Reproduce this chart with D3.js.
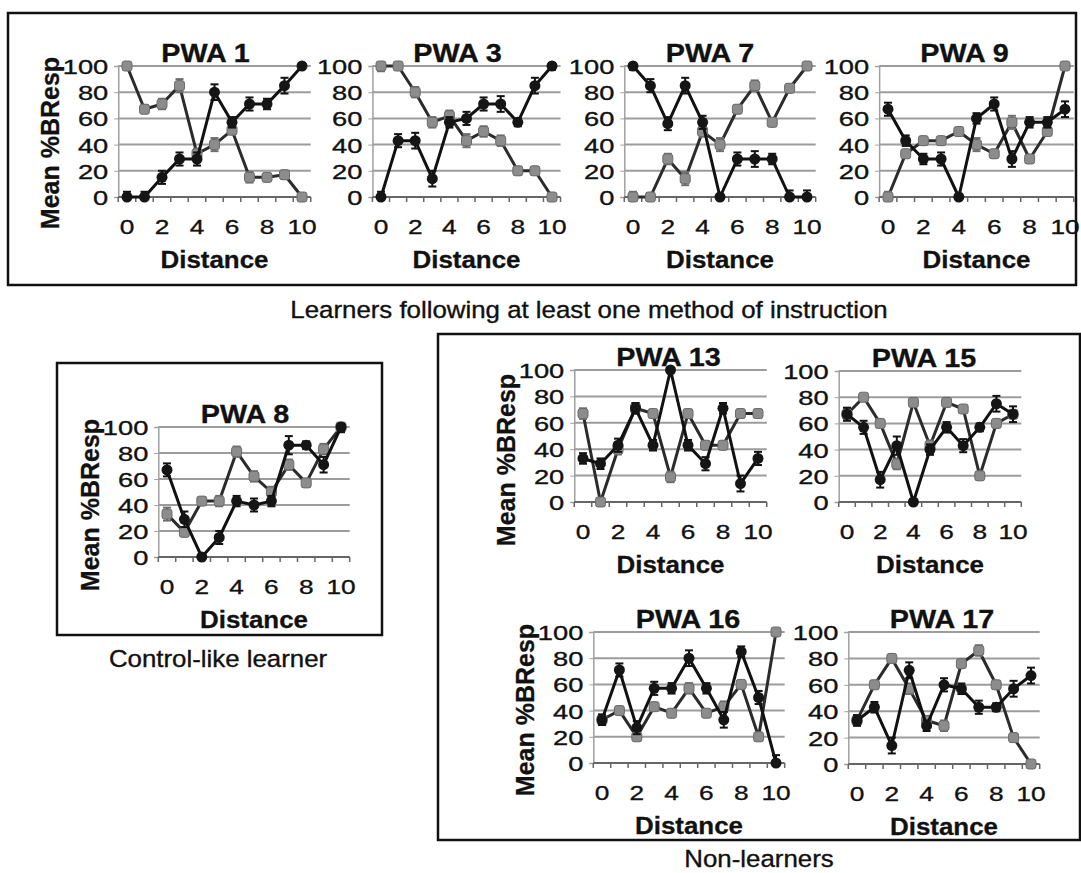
<!DOCTYPE html>
<html>
<head>
<meta charset="utf-8">
<script src="https://cdn.jsdelivr.net/npm/d3@7"></script>
<style>
  body { margin: 0; background: #ffffff; }
  svg { display: block; font-family: "Liberation Sans", Arial, sans-serif; }
</style>
</head>
<body>
<div id="chart"></div>
<script>
// Categories and ticks shared by all panels.
const distances = [0, 1, 2, 3, 4, 5, 6, 7, 8, 9, 10];
const xTickLabels = [0, 2, 4, 6, 8, 10];
const yTicks = [0, 20, 40, 60, 80, 100];

// Mean %BResp per distance, black series / gray series, with error bars.
const pwa1Black = [0, 0, 15, 29, 29, 80, 57, 71, 71, 85, 100];
const pwa1BlackErr = [4, 4, 5, 5, 5, 6, 4, 5, 4, 6, 2];
const pwa1Gray = [100, 67, 71, 85, 33, 40, 51, 15, 15, 17, 0];
const pwa1GrayErr = [2, 3, 4, 5, 4, 5, 3, 4, 3, 3, 1];

const pwa3Black = [0, 43, 43, 14, 57, 60, 71, 71, 57, 85, 100];
const pwa3BlackErr = [4, 5, 6, 6, 4, 5, 5, 6, 3, 6, 3];
const pwa3Gray = [100, 100, 80, 57, 62, 43, 50, 43, 20, 20, 0];
const pwa3GrayErr = [4, 2, 4, 4, 4, 5, 4, 4, 3, 3, 2];

const pwa7Black = [100, 85, 56, 85, 57, 0, 29, 29, 29, 0, 0];
const pwa7BlackErr = [3, 5, 5, 6, 5, 2, 5, 6, 4, 5, 5];
const pwa7Gray = [0, 0, 29, 14, 50, 40, 67, 85, 57, 83, 100];
const pwa7GrayErr = [4, 2, 4, 5, 4, 5, 3, 4, 3, 3, 2];

const pwa9Black = [67, 43, 29, 29, 0, 60, 71, 29, 57, 57, 67];
const pwa9BlackErr = [5, 4, 4, 5, 2, 4, 5, 6, 4, 4, 6];
const pwa9Gray = [0, 33, 43, 43, 50, 40, 33, 57, 29, 50, 100];
const pwa9GrayErr = [4, 3, 3, 3, 3, 5, 3, 5, 3, 3, 2];

const pwa8Black = [67, 29, 0, 15, 43, 40, 43, 86, 86, 71, 100];
const pwa8BlackErr = [5, 6, 2, 5, 4, 5, 4, 7, 3, 6, 4];
const pwa8Gray = [33, 19, 43, 43, 81, 62, 50, 71, 57, 83, 100];
const pwa8GrayErr = [5, 3, 3, 4, 4, 4, 4, 4, 3, 4, 3];

const pwa13Black = [33, 29, 43, 71, 43, 100, 43, 29, 71, 14, 33];
const pwa13BlackErr = [4, 4, 5, 4, 4, 2, 4, 5, 4, 6, 5];
const pwa13Gray = [67, 0, 40, 71, 67, 19, 67, 43, 43, 67, 67];
const pwa13GrayErr = [4, 2, 4, 4, 3, 4, 3, 3, 3, 3, 3];

const pwa15Black = [67, 57, 17, 43, 0, 40, 57, 43, 57, 75, 67];
const pwa15BlackErr = [5, 5, 6, 7, 2, 4, 4, 5, 3, 6, 6];
const pwa15Gray = [67, 80, 60, 29, 76, 43, 76, 71, 20, 60, 67];
const pwa15GrayErr = [4, 2, 3, 4, 3, 4, 3, 3, 3, 3, 3];

const pwa16Black = [33, 71, 27, 57, 57, 80, 57, 33, 85, 50, 0];
const pwa16BlackErr = [4, 5, 5, 5, 4, 6, 4, 6, 4, 5, 6];
const pwa16Gray = [33, 40, 20, 43, 38, 57, 38, 43, 60, 20, 100];
const pwa16GrayErr = [4, 3, 3, 3, 3, 4, 3, 4, 3, 3, 2];

const pwa17Black = [33, 43, 14, 71, 29, 60, 57, 43, 43, 57, 67];
const pwa17BlackErr = [4, 4, 6, 6, 4, 5, 4, 5, 3, 6, 6];
const pwa17Gray = [33, 60, 80, 57, 33, 29, 76, 86, 60, 20, 0];
const pwa17GrayErr = [4, 3, 3, 4, 3, 4, 3, 4, 3, 3, 2];

// Where each small chart sits on the page (x of first/last category, y of 100 and 0).
const panels = [
  { title: "PWA 1", black: pwa1Black, blackErr: pwa1BlackErr, gray: pwa1Gray, grayErr: pwa1GrayErr,
    x0: 127, x10: 302, yTop: 66, yBot: 197, titleDx: -9, yTitleCy: 143 },
  { title: "PWA 3", black: pwa3Black, blackErr: pwa3BlackErr, gray: pwa3Gray, grayErr: pwa3GrayErr,
    x0: 381, x10: 552, yTop: 66, yBot: 197, titleDx: -9 },
  { title: "PWA 7", black: pwa7Black, blackErr: pwa7BlackErr, gray: pwa7Gray, grayErr: pwa7GrayErr,
    x0: 633, x10: 807, yTop: 66, yBot: 197, titleDx: -10 },
  { title: "PWA 9", black: pwa9Black, blackErr: pwa9BlackErr, gray: pwa9Gray, grayErr: pwa9GrayErr,
    x0: 888, x10: 1065, yTop: 66, yBot: 197, titleDx: -12 },
  { title: "PWA 8", black: pwa8Black, blackErr: pwa8BlackErr, gray: pwa8Gray, grayErr: pwa8GrayErr,
    x0: 167, x10: 341, yTop: 427, yBot: 557, titleDx: -9, yTitleCy: 505 },
  { title: "PWA 13", black: pwa13Black, blackErr: pwa13BlackErr, gray: pwa13Gray, grayErr: pwa13GrayErr,
    x0: 583, x10: 758, yTop: 370, yBot: 502, titleDx: -2, yTitleCy: 460 },
  { title: "PWA 15", black: pwa15Black, blackErr: pwa15BlackErr, gray: pwa15Gray, grayErr: pwa15GrayErr,
    x0: 847, x10: 1013, yTop: 371, yBot: 502, titleDx: -6 },
  { title: "PWA 16", black: pwa16Black, blackErr: pwa16BlackErr, gray: pwa16Gray, grayErr: pwa16GrayErr,
    x0: 602, x10: 776, yTop: 632, yBot: 763, titleDx: -1, yTitleCy: 710 },
  { title: "PWA 17", black: pwa17Black, blackErr: pwa17BlackErr, gray: pwa17Gray, grayErr: pwa17GrayErr,
    x0: 857, x10: 1031, yTop: 632, yBot: 764, titleDx: -2 }
];

const width = 1081, height = 873;
const svg = d3.select("#chart").append("svg")
  .attr("width", width)
  .attr("height", height)
  .attr("viewBox", [0, 0, width, height]);

// Group frames.
const frames = [
  { x: 8, y: 13, w: 1068, h: 272 },
  { x: 57, y: 363, w: 325, h: 272 },
  { x: 438, y: 334, w: 642, h: 506 }
];
svg.selectAll(".frame")
  .data(frames)
  .join("rect")
  .attr("class", "frame")
  .attr("x", d => d.x).attr("y", d => d.y)
  .attr("width", d => d.w).attr("height", d => d.h)
  .attr("fill", "none")
  .attr("stroke", "#111")
  .attr("stroke-width", 2.5);

// Text that is a little wider than the font, like the scanned figure.
function label(parent, txt, x, y, size, weight, sx, anchor = "middle") {
  return parent.append("text")
    .attr("transform", `translate(${x},${y}) scale(${sx},1)`)
    .attr("text-anchor", anchor)
    .attr("font-size", size)
    .attr("font-weight", weight)
    .attr("fill", "#111")
    .attr("stroke", "#111")
    .attr("stroke-width", weight === "bold" ? 0.3 : 0.35)
    .text(txt);
}

label(svg, "Learners following at least one method of instruction", 589, 318, 23.5, "normal", 1.1);
label(svg, "Control-like learner", 218, 667, 23.5, "normal", 1.1);
label(svg, "Non-learners", 759, 867, 23.5, "normal", 1.1);

function drawPanel(p) {
  const step = (p.x10 - p.x0) / 10;
  const left = p.x0 - step / 2, right = p.x10 + step / 2;
  const x = d3.scaleBand().domain(distances).range([left, right]);
  const y = d3.scaleLinear().domain([0, 100]).range([p.yBot, p.yTop]);
  const cx = d => x(d) + x.bandwidth() / 2;
  const g = svg.append("g").attr("class", "panel");

  // Horizontal gridlines.
  g.selectAll(".grid")
    .data(yTicks.filter(t => t > 0))
    .join("line")
    .attr("x1", left).attr("x2", right)
    .attr("y1", d => y(d)).attr("y2", d => y(d))
    .attr("stroke", "#9c9c9c")
    .attr("stroke-width", 2);

  // Y axis with its labels.
  const yAxis = g.append("g")
    .attr("transform", `translate(${left},0)`)
    .call(d3.axisLeft(y).tickValues(yTicks).tickSize(4).tickPadding(10));
  yAxis.select(".domain").attr("stroke", "#a0a0a0").attr("stroke-width", 1.5);
  yAxis.selectAll(".tick line").attr("stroke", "#a0a0a0");
  yAxis.selectAll(".tick text")
    .attr("x", -10 / 1.3)
    .attr("dy", null)
    .attr("y", 7.5)
    .attr("transform", "scale(1.3,1)")
    .attr("font-size", 21)
    .attr("font-family", null)
    .attr("fill", "#111")
    .attr("stroke", "#111")
    .attr("stroke-width", 0.35);

  // X axis: ticks between categories, labels on even distances.
  g.append("line")
    .attr("x1", left).attr("x2", right)
    .attr("y1", p.yBot).attr("y2", p.yBot)
    .attr("stroke", "#666").attr("stroke-width", 2);
  g.selectAll(".xtick")
    .data(distances.map(d => x(d)).concat([right]))
    .join("line")
    .attr("x1", d => d).attr("x2", d => d)
    .attr("y1", p.yBot).attr("y2", p.yBot + 5)
    .attr("stroke", "#666").attr("stroke-width", 1.5);
  const xAxis = g.append("g")
    .attr("transform", `translate(0,${p.yBot})`)
    .call(d3.axisBottom(x).tickValues(xTickLabels).tickSize(0).tickPadding(0));
  xAxis.select(".domain").remove();
  xAxis.selectAll(".tick text")
    .attr("y", 37)
    .attr("dy", null)
    .attr("transform", "scale(1.25,1)")
    .attr("font-size", 21)
    .attr("font-family", null)
    .attr("fill", "#111")
    .attr("stroke", "#111")
    .attr("stroke-width", 0.35);

  // Titles.
  label(g, p.title, (left + right) / 2 + p.titleDx, p.yTop - 4, 25, "bold", 1.15);
  label(g, "Distance", (left + right) / 2, p.yBot + 71, 24, "bold", 1.08);
  if (p.yTitleCy) {
    g.append("text")
      .attr("transform", `translate(${left - 59},${p.yTitleCy}) rotate(-90)`)
      .attr("text-anchor", "middle")
      .attr("font-size", 25)
      .attr("font-weight", "bold")
      .attr("fill", "#111")
      .attr("stroke", "#111")
      .attr("stroke-width", 0.3)
      .text("Mean %BResp");
  }

  const line = d3.line().x((v, i) => cx(distances[i])).y(v => y(v));
  const series = [
    { values: p.gray, err: p.grayErr, stroke: "#2b2b2b", errColor: "#6e6e6e", shape: "square" },
    { values: p.black, err: p.blackErr, stroke: "#111", errColor: "#111", shape: "circle" }
  ];

  series.forEach(s => {
    g.append("path")
      .datum(s.values)
      .attr("d", line)
      .attr("fill", "none")
      .attr("stroke", s.stroke)
      .attr("stroke-width", 3)
      .attr("stroke-linejoin", "round");

    const pts = s.values.map((v, i) => ({ d: distances[i], v, e: s.err[i] }));
    const eb = g.append("g");
    pts.forEach(pt => {
      const lo = y(Math.max(0, pt.v - pt.e)), hi = y(Math.min(100, pt.v + pt.e));
      eb.append("line")
        .attr("x1", cx(pt.d)).attr("x2", cx(pt.d))
        .attr("y1", lo).attr("y2", hi)
        .attr("stroke", s.errColor).attr("stroke-width", 2);
      [lo, hi].forEach(yy => {
        eb.append("line")
          .attr("x1", cx(pt.d) - 4).attr("x2", cx(pt.d) + 4)
          .attr("y1", yy).attr("y2", yy)
          .attr("stroke", s.errColor).attr("stroke-width", 2);
      });
    });

    if (s.shape === "circle") {
      g.selectAll(null)
        .data(pts)
        .join("circle")
        .attr("cx", pt => cx(pt.d))
        .attr("cy", pt => y(pt.v))
        .attr("r", 5.5)
        .attr("fill", "#151515");
    } else {
      g.selectAll(null)
        .data(pts)
        .join("rect")
        .attr("x", pt => cx(pt.d) - 5)
        .attr("y", pt => y(pt.v) - 5)
        .attr("width", 10).attr("height", 10)
        .attr("rx", 2.5)
        .attr("fill", "#8c8c8c")
        .attr("stroke", "#6a6a6a")
        .attr("stroke-width", 1);
    }
  });
}

panels.forEach(drawPanel);
</script>
</body>
</html>
